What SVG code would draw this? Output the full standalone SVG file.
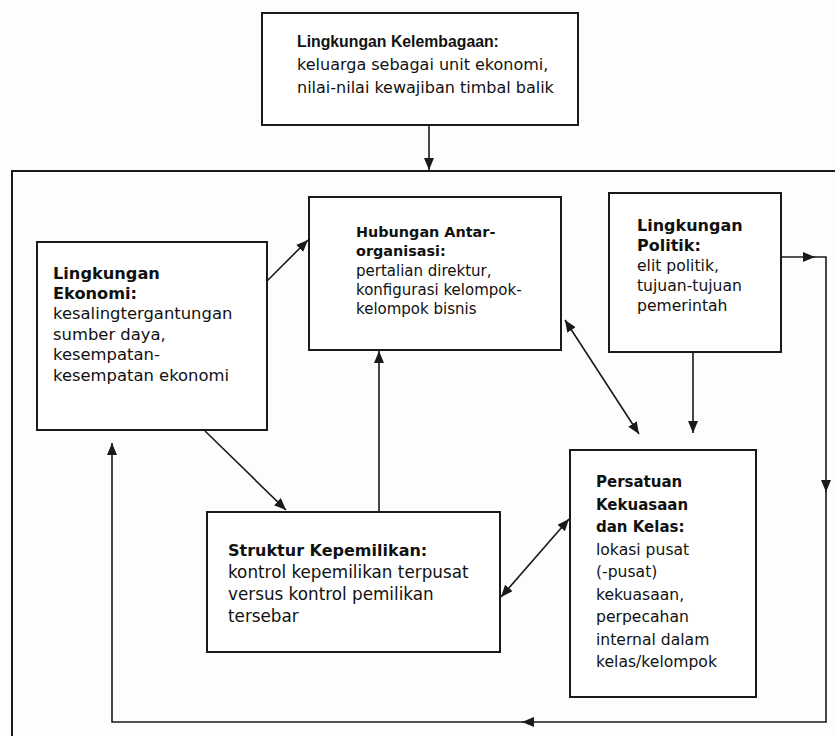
<svg xmlns="http://www.w3.org/2000/svg" width="835" height="736" viewBox="0 0 835 736">
<style>
.bg{fill:#fdfdfb}
.box{fill:#ffffff;stroke:#1a1a1a;stroke-width:2}
.outer{fill:none;stroke:#1a1a1a;stroke-width:2}
.con{fill:none;stroke:#1a1a1a;stroke-width:1.6}
.t{font-family:"DejaVu Sans",sans-serif;fill:#111}
.b{font-weight:bold}
.lb{font-family:"Liberation Sans",Arial,sans-serif;font-weight:bold;fill:#111}
</style>
<defs>
<marker id="arr" markerUnits="userSpaceOnUse" markerWidth="12" markerHeight="10" refX="12" refY="5" orient="auto-start-reverse">
<path d="M0,0 L12,5 L0,10 z" fill="#1a1a1a"/>
</marker>
</defs>
<rect class="bg" x="0" y="0" width="835" height="736"/>
<rect id="outer-frame" class="outer" x="12" y="171" width="830" height="572"/>

<g id="node-kelembagaan">
<rect class="box" x="262" y="13" width="316" height="112"/>
<text class="lb" x="297" y="47" font-size="15.8">Lingkungan Kelembagaan:</text>
<text class="t" x="297" y="70" font-size="16">keluarga sebagai unit ekonomi,</text>
<text class="t" x="297" y="93" font-size="16">nilai-nilai kewajiban timbal balik</text>
</g>

<g id="node-ekonomi">
<rect class="box" x="37" y="242" width="230" height="188"/>
<text class="t b" x="53" y="279" font-size="16.2">Lingkungan</text>
<text class="t b" x="53" y="299" font-size="16.2">Ekonomi:</text>
<text class="t" x="53" y="319" font-size="16.4">kesalingtergantungan</text>
<text class="t" x="53" y="339.5" font-size="16.4">sumber daya,</text>
<text class="t" x="53" y="360" font-size="16.4">kesempatan-</text>
<text class="t" x="53" y="380.5" font-size="16.4">kesempatan ekonomi</text>
</g>

<g id="node-hubungan">
<rect class="box" x="309" y="197" width="252" height="153"/>
<text class="t b" x="356" y="237" font-size="14.4">Hubungan Antar-</text>
<text class="t b" x="356" y="256" font-size="14.4">organisasi:</text>
<text class="t" x="356" y="276" font-size="15">pertalian direktur,</text>
<text class="t" x="356" y="295" font-size="15">konfigurasi kelompok-</text>
<text class="t" x="356" y="314" font-size="15">kelompok bisnis</text>
</g>

<g id="node-politik">
<rect class="box" x="609" y="193" width="172" height="159"/>
<text class="t b" x="637" y="231" font-size="16">Lingkungan</text>
<text class="t b" x="637" y="251" font-size="16">Politik:</text>
<text class="t" x="637" y="271" font-size="15.6">elit politik,</text>
<text class="t" x="637" y="291" font-size="15.6">tujuan-tujuan</text>
<text class="t" x="637" y="311" font-size="15.6">pemerintah</text>
</g>

<g id="node-struktur">
<rect class="box" x="207" y="512" width="293" height="140"/>
<text class="t b" x="228" y="556" font-size="16">Struktur Kepemilikan:</text>
<text class="t" x="228" y="578" font-size="16.8">kontrol kepemilikan terpusat</text>
<text class="t" x="228" y="600" font-size="16.8">versus kontrol pemilikan</text>
<text class="t" x="228" y="622" font-size="16.8">tersebar</text>
</g>

<g id="node-persatuan">
<rect class="box" x="570" y="450" width="186" height="247"/>
<text class="t b" x="596" y="487" font-size="15">Persatuan</text>
<text class="t b" x="596" y="509.5" font-size="15">Kekuasaan</text>
<text class="t b" x="596" y="532" font-size="15">dan Kelas:</text>
<text class="t" x="596" y="554.5" font-size="15.6">lokasi pusat</text>
<text class="t" x="596" y="577" font-size="15.6">(-pusat)</text>
<text class="t" x="596" y="599.5" font-size="15.6">kekuasaan,</text>
<text class="t" x="596" y="622" font-size="15.6">perpecahan</text>
<text class="t" x="596" y="644.5" font-size="15.6">internal dalam</text>
<text class="t" x="596" y="667" font-size="15.6">kelas/kelompok</text>
</g>

<g id="connectors">
<path class="con" d="M429,125 V170" marker-end="url(#arr)"/>
<path class="con" d="M267,281 L308,240" marker-end="url(#arr)"/>
<path class="con" d="M205,431 L286,510" marker-end="url(#arr)"/>
<path class="con" d="M379,512 V351" marker-end="url(#arr)"/>
<path class="con" d="M565,320 L639,434" marker-start="url(#arr)" marker-end="url(#arr)"/>
<path class="con" d="M693,352 V433" marker-end="url(#arr)"/>
<path class="con" d="M501,597 L569,519" marker-start="url(#arr)" marker-end="url(#arr)"/>
<path class="con" d="M781,257 H815" marker-end="url(#arr)"/>
<path class="con" d="M814,257 H826 V492" marker-end="url(#arr)"/>
<path class="con" d="M826,491 V722 H522" marker-end="url(#arr)"/>
<path class="con" d="M523,722 H112 V443" marker-end="url(#arr)"/>
</g>
</svg>
